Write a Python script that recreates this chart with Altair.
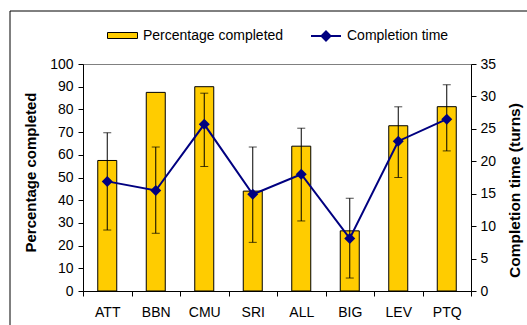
import altair as alt
import pandas as pd

categories = ["ATT", "BBN", "CMU", "SRI", "ALL", "BIG", "LEV", "PTQ"]
pct_completed = [57.5, 87.5, 90.0, 44.0, 63.8, 26.5, 72.8, 81.2]
completion_time = [16.9, 15.5, 25.7, 14.9, 18.0, 8.1, 23.1, 26.5]
time_err_low = [9.4, 8.9, 19.2, 7.5, 10.8, 2.0, 17.5, 21.6]
time_err_high = [24.4, 22.2, 30.5, 22.2, 25.1, 14.3, 28.4, 31.8]

pct_ticks = list(range(0, 101, 10))
time_ticks = list(range(0, 36, 5))

df = pd.DataFrame({
    "cat": categories,
    "pct": pct_completed,
    "time": completion_time,
    "lo": time_err_low,
    "hi": time_err_high,
})

FONT = "Liberation Sans"
NAVY = "#000080"
GOLD = "#FFCC00"

x_enc = alt.X(
    "cat:N", sort=categories,
    scale=alt.Scale(paddingInner=0, paddingOuter=0),
    axis=alt.Axis(title=None, labelAngle=0, tickBand="extent", tickSize=5,
                  labelPadding=9, domainColor="black", tickColor="black"),
)

base = alt.Chart(df)

bars = base.transform_calculate(s1="'Percentage completed'").mark_bar(
    size=19, stroke="black", strokeWidth=1).encode(
    x=x_enc,
    y=alt.Y("pct:Q", scale=alt.Scale(domain=[0, 100]),
            axis=alt.Axis(values=pct_ticks, title="Percentage completed", grid=False,
                          tickSize=5, labelPadding=5, titlePadding=11, titleY=108,
                          titleFontSize=15,
                          domainColor="black", tickColor="black")),
    fill=alt.Fill("s1:N",
                  scale=alt.Scale(range=[GOLD]),
                  legend=alt.Legend(orient="none", legendX=24, legendY=-44, title=None,
                                    symbolType="M-1,-0.2H1V0.2H-1Z", symbolSize=900,
                                    symbolStrokeColor="black", symbolStrokeWidth=1,
                                    labelFontSize=14, labelFont=FONT, labelColor="black",
                                    labelOffset=5, padding=0)),
)

time_axis = alt.Axis(values=time_ticks, title="Completion time (turns)", grid=False,
                     orient="right", tickSize=5, labelPadding=4, titlePadding=27,
                     titleAngle=270, titleY=126, titleFontSize=15.5,
                     domainColor="black", tickColor="black")
time_scale = alt.Scale(domain=[0, 35])

line = base.transform_calculate(s2="'Completion time'").mark_line(strokeWidth=2).encode(
    x=x_enc,
    y=alt.Y("time:Q", scale=time_scale, axis=time_axis),
    stroke=alt.Stroke("s2:N",
                      scale=alt.Scale(range=[NAVY]),
                      legend=alt.Legend(orient="none", legendX=227, legendY=-44, title=None,
                                        symbolType="M-1,0H1M0,-0.3L0.3,0L0,0.3L-0.3,0Z",
                                        symbolSize=900, symbolFillColor=NAVY,
                                        symbolStrokeColor=NAVY, symbolStrokeWidth=2,
                                        labelFontSize=14, labelFont=FONT, labelColor="black",
                                        labelOffset=5, padding=0)),
)

rules = base.mark_rule(color="black", strokeWidth=1).encode(
    x=x_enc,
    y=alt.Y("lo:Q", scale=time_scale, axis=time_axis),
    y2="hi:Q",
)
cap_lo = base.mark_tick(color="black", size=8, thickness=1).encode(
    x=x_enc, y=alt.Y("lo:Q", scale=time_scale, axis=time_axis))
cap_hi = base.mark_tick(color="black", size=8, thickness=1).encode(
    x=x_enc, y=alt.Y("hi:Q", scale=time_scale, axis=time_axis))

points = base.mark_point(shape="diamond", filled=True, size=121, color=NAVY, opacity=1).encode(
    x=x_enc, y=alt.Y("time:Q", scale=time_scale, axis=time_axis))

frame = alt.Chart(pd.DataFrame({"f": [0]})).mark_rect(
    filled=False, stroke="black", strokeWidth=1).encode(
    x=alt.value(-73), x2=alt.value(470), y=alt.value(-53), y2=alt.value(300))

time_layer = alt.layer(rules, cap_lo, cap_hi, line, points)

chart = alt.layer(frame, bars, time_layer).resolve_scale(
    y="independent", fill="independent", stroke="independent"
).properties(
    width=388, height=227,
    autosize=alt.AutoSizeParams(type="none"),
    padding={"left": 83, "top": 64, "right": 56, "bottom": 34},
    background="white",
).configure_view(
    stroke="#808080", strokeWidth=1
).configure_axis(
    labelFont=FONT, labelFontSize=14, labelColor="black",
    titleFont=FONT, titleFontSize=14, titleFontWeight="bold", titleColor="black",
)

chart.save("out.html", embed_options={"renderer": "svg", "actions": False})
